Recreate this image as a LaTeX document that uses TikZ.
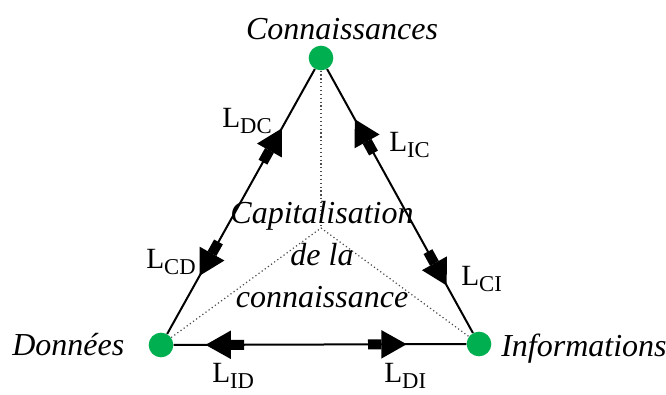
\documentclass[tikz,border=0pt]{standalone}
\usepackage{fontspec}
\setmainfont{Liberation Serif}
\usepackage{tikz}
\usetikzlibrary{arrows.meta,decorations.markings}
\definecolor{kngreen}{RGB}{0,176,80}
\newcommand{\linklabel}[1]{L\raisebox{-5pt}{\fontsize{17}{17}\selectfont #1}}
\tikzset{
  kn-vertex/.style={circle, fill=kngreen, minimum size=18.5pt, inner sep=0pt},
  kn-edge/.style 2 args={line width=1.5pt, postaction={decorate, decoration={markings,
      mark=at position #1 with {\arrowreversed{Rectangle[length=10pt,width=7.5pt,sep=0pt]Triangle[length=19pt,width=21pt]}},
      mark=at position #2 with {\arrow{Rectangle[length=10pt,width=7.5pt,sep=0pt]Triangle[length=19pt,width=21pt]}}}}},
  kn-dots/.style={dotted, line width=0.9pt, black!70},
  kn-name/.style={font=\itshape\fontsize{24}{28}\selectfont, inner sep=0pt},
  kn-link/.style={font=\fontsize{22}{24}\selectfont, anchor=base west, inner sep=0pt}
}

\begin{document}
\begin{tikzpicture}[x=0.75pt, y=-0.75pt]
  \useasboundingbox (0,0) rectangle (666,394);
  % the three poles
  \node[kn-vertex] (conn) at (321,58) {};
  \node[kn-vertex] (donn) at (161,345) {};
  \node[kn-vertex] (info) at (479,344) {};
  \coordinate (capi) at (321,228);
  \draw[kn-dots] (conn) -- (capi);
  \draw[kn-dots] (donn) -- (capi) -- (info);
  % links, one arrow each way
  \draw[kn-edge={0.22}{0.776}] (donn) -- (conn);
  \draw[kn-edge={0.18}{0.81}] (info) -- (conn);
  \draw[kn-edge={0.109}{0.796}] (donn) -- (info);
  % names
  \node[kn-name, anchor=base] (connlabel) at (342,39) {Connaissances};
  \node[kn-name, anchor=base west] (donnlabel) at (12,355) {Données};
  \node[kn-name, anchor=base west] (infolabel) at (501,356) {Informations};
  \node[kn-name, align=center, font=\itshape\fontsize{24}{31.5}\selectfont] (capilabel) at (322,255) {Capitalisation\\de la\\connaissance};
  % link labels
  \node[kn-link] (ldc) at (222,127) {\linklabel{DC}};
  \node[kn-link] (lcd) at (146,268) {\linklabel{CD}};
  \node[kn-link] (lic) at (389,151) {\linklabel{IC}};
  \node[kn-link] (lci) at (461,285) {\linklabel{CI}};
  \node[kn-link] (lid) at (212,382) {\linklabel{ID}};
  \node[kn-link] (ldi) at (384,382) {\linklabel{DI}};
\end{tikzpicture}
\end{document}
